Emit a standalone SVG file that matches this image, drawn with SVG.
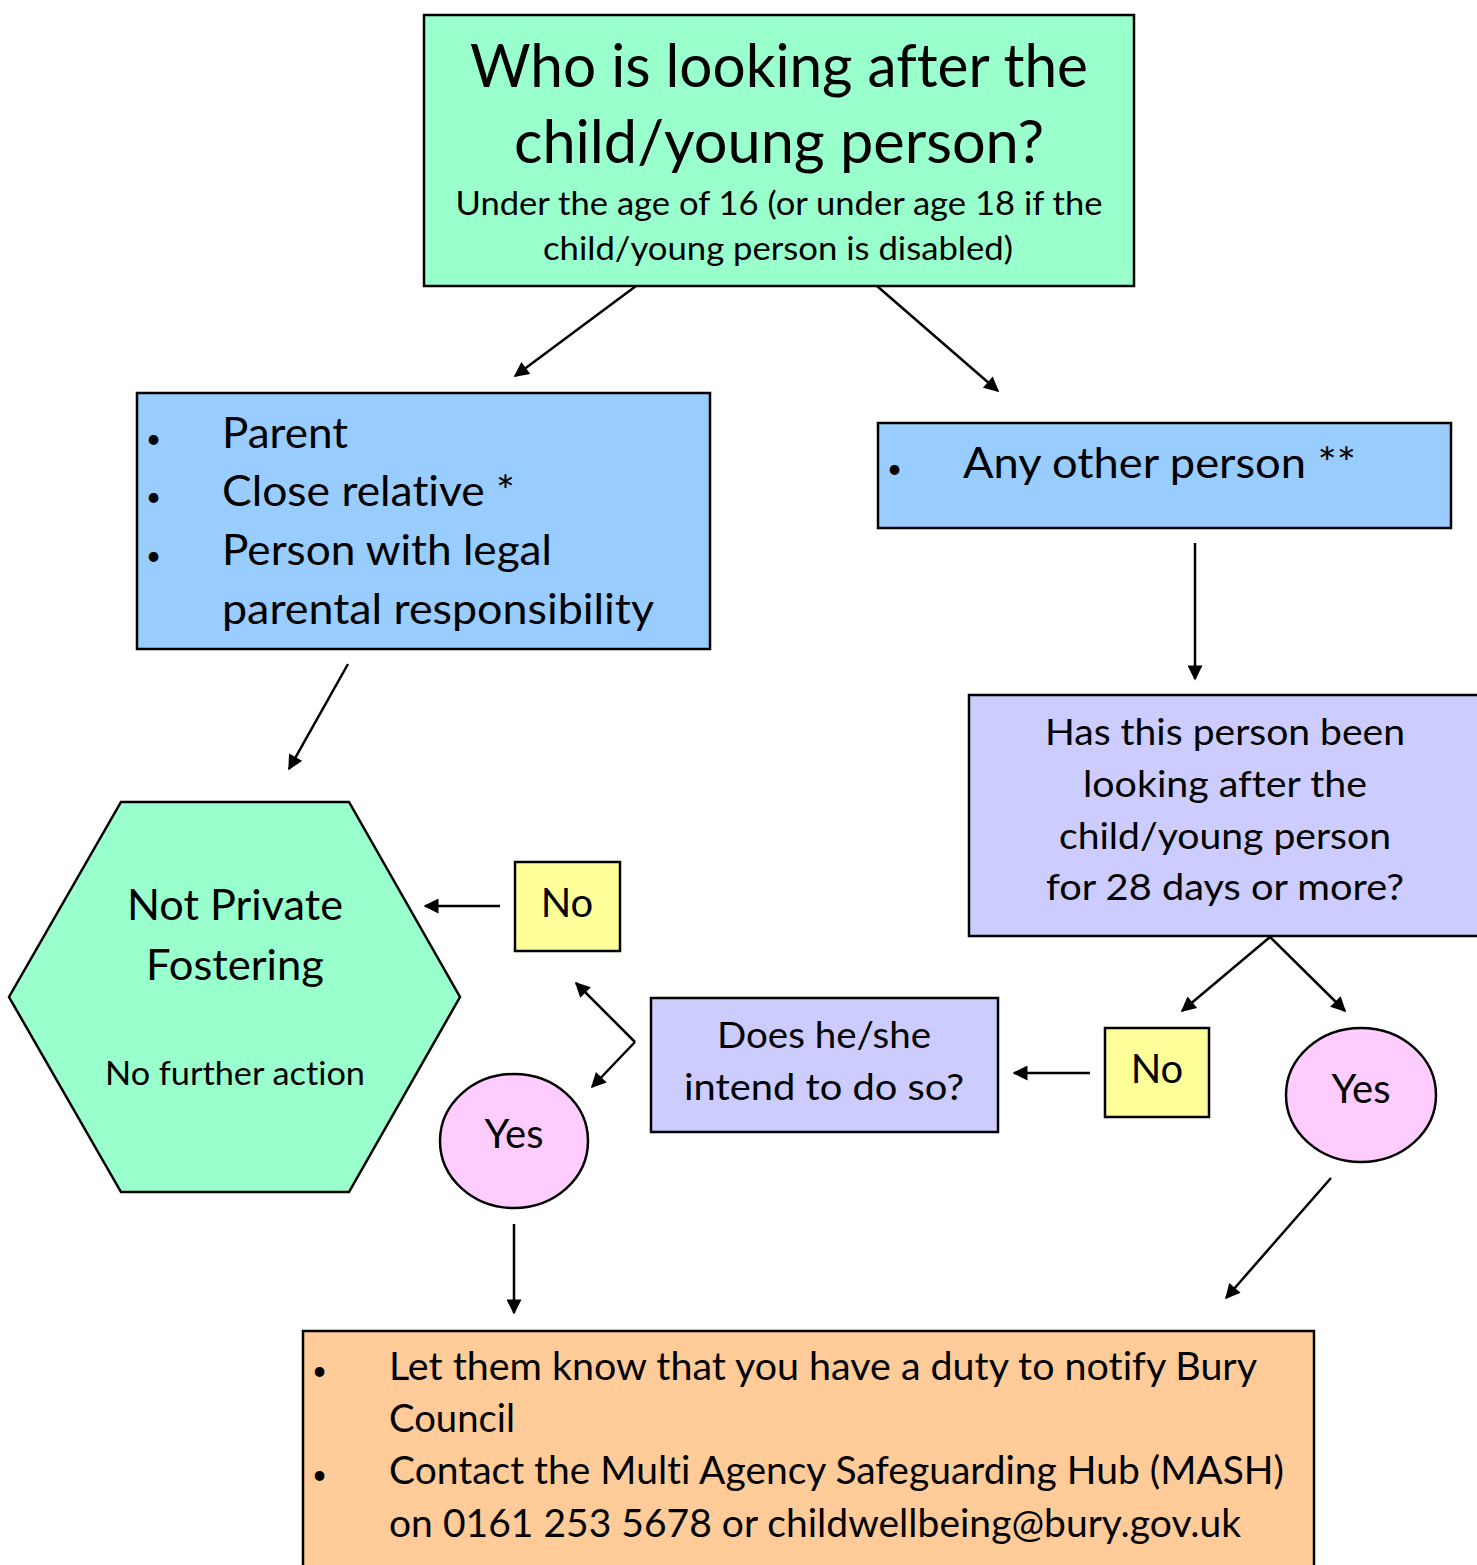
<svg xmlns="http://www.w3.org/2000/svg" width="1477" height="1565" viewBox="0 0 1477 1565">
<style>
text{font-family:Lato,"Open Sans","Liberation Sans",sans-serif;fill:#000;font-variant-ligatures:none;font-feature-settings:"liga" 0,"dlig" 0}
.box{stroke:#000;stroke-width:2.5}
.c{text-anchor:middle}
.conn line,.conn polyline{stroke:#000;stroke-width:2.5;fill:none;marker-end:url(#ah)}
</style>
<defs>
<marker id="ah" viewBox="0 0 10 10" refX="9" refY="5" markerWidth="7" markerHeight="6" markerUnits="strokeWidth" orient="auto">
<path d="M0,0 L10,5 L0,10 Z" fill="#000"/>
</marker>
</defs>
<rect width="1477" height="1565" fill="#fff"/>
<g id="n-top">
<rect class="box" x="424" y="15" width="710" height="271" fill="#99FFCC"/>
<text class="c" x="779" y="87" font-size="60" textLength="618" lengthAdjust="spacingAndGlyphs">Who is looking after the</text>
<text class="c" x="779" y="163" font-size="60" textLength="530" lengthAdjust="spacingAndGlyphs">child/young person?</text>
<text class="c" x="779" y="215" font-size="33" textLength="647" lengthAdjust="spacingAndGlyphs">Under the age of 16 (or under age 18 if the</text>
<text class="c" x="778" y="260" font-size="33" textLength="470" lengthAdjust="spacingAndGlyphs">child/young person is disabled)</text>
</g>
<g id="n-parent">
<rect class="box" x="137" y="393" width="573" height="256" fill="#99CCFF"/>
<g font-size="42">
<text x="146" y="448" font-size="26">•</text>
<text x="146" y="506" font-size="26">•</text>
<text x="146" y="565" font-size="26">•</text>
<text x="222" y="448" textLength="126" lengthAdjust="spacingAndGlyphs">Parent</text>
<text x="222" y="506" textLength="293" lengthAdjust="spacingAndGlyphs">Close relative *</text>
<text x="222" y="565" textLength="330" lengthAdjust="spacingAndGlyphs">Person with legal</text>
<text x="222" y="624" textLength="432" lengthAdjust="spacingAndGlyphs">parental responsibility</text>
</g>
</g>
<g id="n-other">
<rect class="box" x="878" y="423" width="573" height="105" fill="#99CCFF"/>
<text x="887" y="478" font-size="26">•</text>
<text x="963" y="478" font-size="42" textLength="393" lengthAdjust="spacingAndGlyphs">Any other person **</text>
</g>
<g id="n-has28">
<rect class="box" x="969" y="695" width="520" height="241" fill="#CCCCFF"/>
<g font-size="37">
<text class="c" x="1225" y="745" textLength="360" lengthAdjust="spacingAndGlyphs">Has this person been</text>
<text class="c" x="1225" y="797" textLength="284" lengthAdjust="spacingAndGlyphs">looking after the</text>
<text class="c" x="1225" y="849" textLength="332" lengthAdjust="spacingAndGlyphs">child/young person</text>
<text class="c" x="1225" y="900" textLength="358" lengthAdjust="spacingAndGlyphs">for 28 days or more?</text>
</g>
</g>
<g id="n-no2">
<rect class="box" x="1105" y="1028" width="104" height="89" fill="#FFFF99"/>
<text class="c" x="1157" y="1083" font-size="40">No</text>
</g>
<g id="n-yes2">
<ellipse class="box" cx="1361" cy="1095" rx="75" ry="67" fill="#FFCCFF"/>
<text class="c" x="1361" y="1103" font-size="40">Yes</text>
</g>
<g id="n-intend">
<rect class="box" x="651" y="998" width="347" height="134" fill="#CCCCFF"/>
<text class="c" x="824" y="1048" font-size="37" textLength="214" lengthAdjust="spacingAndGlyphs">Does he/she</text>
<text class="c" x="824" y="1100" font-size="37" textLength="280" lengthAdjust="spacingAndGlyphs">intend to do so?</text>
</g>
<g id="n-no1">
<rect class="box" x="515" y="862" width="105" height="89" fill="#FFFF99"/>
<text class="c" x="567" y="917" font-size="40">No</text>
</g>
<g id="n-notpf">
<polygon class="box" points="121,802 349,802 460,997 349,1192 121,1192 9,997" fill="#99FFCC"/>
<text class="c" x="235" y="920" font-size="42" textLength="216" lengthAdjust="spacingAndGlyphs">Not Private</text>
<text class="c" x="235" y="980" font-size="42" textLength="178" lengthAdjust="spacingAndGlyphs">Fostering</text>
<text class="c" x="235" y="1085" font-size="33" textLength="260" lengthAdjust="spacingAndGlyphs">No further action</text>
</g>
<g id="n-yes1">
<ellipse class="box" cx="514" cy="1141" rx="74" ry="67" fill="#FFCCFF"/>
<text class="c" x="514" y="1148" font-size="40">Yes</text>
</g>
<g id="n-notify">
<rect class="box" x="303" y="1331" width="1011" height="260" fill="#FFCC99"/>
<g font-size="38">
<text x="312" y="1380" font-size="26">•</text>
<text x="312" y="1484" font-size="26">•</text>
<text x="389" y="1380" textLength="868" lengthAdjust="spacingAndGlyphs">Let them know that you have a duty to notify Bury</text>
<text x="389" y="1432" textLength="126" lengthAdjust="spacingAndGlyphs">Council</text>
<text x="389" y="1484" textLength="895" lengthAdjust="spacingAndGlyphs">Contact the Multi Agency Safeguarding Hub (MASH)</text>
<text x="389" y="1537" textLength="852" lengthAdjust="spacingAndGlyphs">on 0161 253 5678 or childwellbeing@bury.gov.uk</text>
</g>
</g>
<g id="connectors" class="conn">
<line x1="636" y1="286" x2="515" y2="376"/>
<line x1="877" y1="286" x2="998" y2="391"/>
<line x1="1195" y1="543" x2="1195" y2="679"/>
<line x1="1270" y1="937" x2="1182" y2="1011"/>
<line x1="1270" y1="937" x2="1345" y2="1011"/>
<line x1="1090" y1="1073" x2="1014" y2="1073"/>
<polyline points="635,1042 576,983"/>
<polyline points="635,1042 592,1087"/>
<line x1="500" y1="906" x2="425" y2="906"/>
<line x1="348" y1="664" x2="289" y2="769"/>
<line x1="514" y1="1224" x2="514" y2="1313"/>
<line x1="1331" y1="1178" x2="1226" y2="1298"/>
</g>
</svg>
